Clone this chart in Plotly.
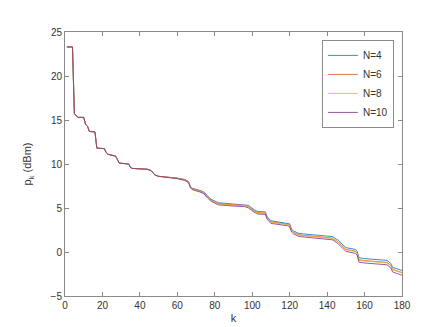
import plotly.graph_objects as go

# breakpoints of the sorted power curves (k index)
k_points = [1, 4, 5, 6, 7, 10, 11, 12, 13, 16, 17, 21, 22, 23, 27, 28, 29, 34, 35, 36,
            44, 46, 48, 50, 56, 60, 64, 66, 67, 68, 72, 74, 76, 78, 80, 82, 90, 96, 98,
            101, 103, 107, 108, 110, 119, 120, 121, 122, 125, 130, 140, 143, 145, 146,
            148, 150, 155, 156, 157, 160, 172, 174, 175, 180]

p_N4 = [23.3, 23.3, 15.7, 15.5, 15.3, 15.3, 14.5, 14.3, 13.7, 13.65, 11.8, 11.75, 11.3, 11.1,
        10.9, 10.5, 10.1, 10.0, 9.6, 9.5, 9.4, 9.25, 8.75, 8.6, 8.5, 8.4, 8.25, 8.0, 7.45,
        7.25, 7.0, 6.85, 6.4, 6.0, 5.8, 5.6, 5.45, 5.4, 5.3, 4.8, 4.6, 4.55, 4.0, 3.55, 3.3,
        3.2, 2.6, 2.4, 2.1, 2.0, 1.85, 1.75, 1.45, 1.35, 0.9, 0.5, 0.3, 0.1, -0.65, -0.75,
        -0.95, -1.3, -1.75, -2.1]

p_N6 = [23.3, 23.3, 15.7, 15.5, 15.3, 15.3, 14.5, 14.3, 13.7, 13.65, 11.8, 11.75, 11.3, 11.1,
        10.9, 10.5, 10.1, 10.0, 9.6, 9.5, 9.4, 9.25, 8.75, 8.6, 8.5, 8.38, 8.2, 7.95, 7.4,
        7.18, 6.92, 6.77, 6.3, 5.92, 5.7, 5.5, 5.36, 5.3, 5.18, 4.68, 4.48, 4.43, 3.88, 3.42,
        3.15, 3.05, 2.45, 2.25, 1.95, 1.85, 1.68, 1.57, 1.27, 1.15, 0.7, 0.3, 0.1, -0.12,
        -0.88, -0.98, -1.18, -1.52, -1.98, -2.34]

p_N8 = [23.3, 23.3, 15.7, 15.5, 15.3, 15.3, 14.5, 14.3, 13.7, 13.65, 11.8, 11.75, 11.3, 11.1,
        10.9, 10.5, 10.1, 10.0, 9.6, 9.5, 9.4, 9.25, 8.75, 8.6, 8.5, 8.37, 8.18, 7.93, 7.38,
        7.15, 6.9, 6.74, 6.27, 5.88, 5.66, 5.46, 5.33, 5.27, 5.15, 4.64, 4.44, 4.4, 3.85, 3.38,
        3.12, 3.01, 2.41, 2.21, 1.91, 1.81, 1.64, 1.53, 1.23, 1.1, 0.66, 0.26, 0.05, -0.17,
        -0.93, -1.03, -1.23, -1.57, -2.02, -2.38]

p_N10 = [23.3, 23.3, 15.7, 15.5, 15.3, 15.3, 14.5, 14.3, 13.7, 13.65, 11.8, 11.75, 11.3, 11.1,
         10.9, 10.5, 10.1, 10.0, 9.6, 9.5, 9.4, 9.25, 8.75, 8.6, 8.48, 8.33, 8.12, 7.86, 7.3,
         7.08, 6.82, 6.65, 6.17, 5.78, 5.55, 5.35, 5.22, 5.15, 5.02, 4.52, 4.32, 4.27, 3.72,
         3.25, 2.98, 2.87, 2.27, 2.07, 1.76, 1.66, 1.5, 1.38, 1.07, 0.93, 0.48, 0.07, -0.15,
         -0.37, -1.15, -1.25, -1.45, -1.8, -2.27, -2.64]

series_names = ["N=4", "N=6", "N=8", "N=10"]
series_values = [p_N4, p_N6, p_N8, p_N10]
series_colors = ["#0072BD", "#D95319", "#EDB120", "#7E2F8E"]

x_ticks = [0, 20, 40, 60, 80, 100, 120, 140, 160, 180]
y_ticks = [-5, 0, 5, 10, 15, 20, 25]

FONT = "Liberation Sans, Arial, sans-serif"

fig = go.Figure()
for name, vals, col in zip(series_names, series_values, series_colors):
    fig.add_trace(go.Scatter(x=k_points, y=vals, mode="lines", name=name,
                             line=dict(color=col, width=0.8)))

axis_common = dict(
    showline=True, linecolor="#8a8a8a", linewidth=1, mirror="ticks",
    ticks="inside", ticklen=4, tickcolor="#8a8a8a", tickwidth=1,
    showgrid=False, zeroline=False,
    tickfont=dict(family=FONT, size=10, color="#333333"),
)

fig.update_xaxes(range=[0, 180], tickvals=x_ticks, **axis_common,
                 title=dict(text="k", font=dict(family=FONT, size=11, color="#333333"),
                            standoff=4))
fig.update_yaxes(range=[-5, 25], tickvals=y_ticks, **axis_common,
                 title=dict(text="p<sub>k</sub> (dBm)",
                            font=dict(family=FONT, size=11, color="#333333"),
                            standoff=16))

fig.update_layout(
    width=436, height=327,
    margin=dict(l=57, r=42, t=24, b=36),
    paper_bgcolor="white", plot_bgcolor="white",
    showlegend=True,
    legend=dict(x=0.976, y=0.97, xanchor="right", yanchor="top",
                bgcolor="white", bordercolor="#8a8a8a", borderwidth=1,
                font=dict(family=FONT, size=10, color="#333333"),
                tracegroupgap=0, itemwidth=30),
)

fig.write_html("out.html")
